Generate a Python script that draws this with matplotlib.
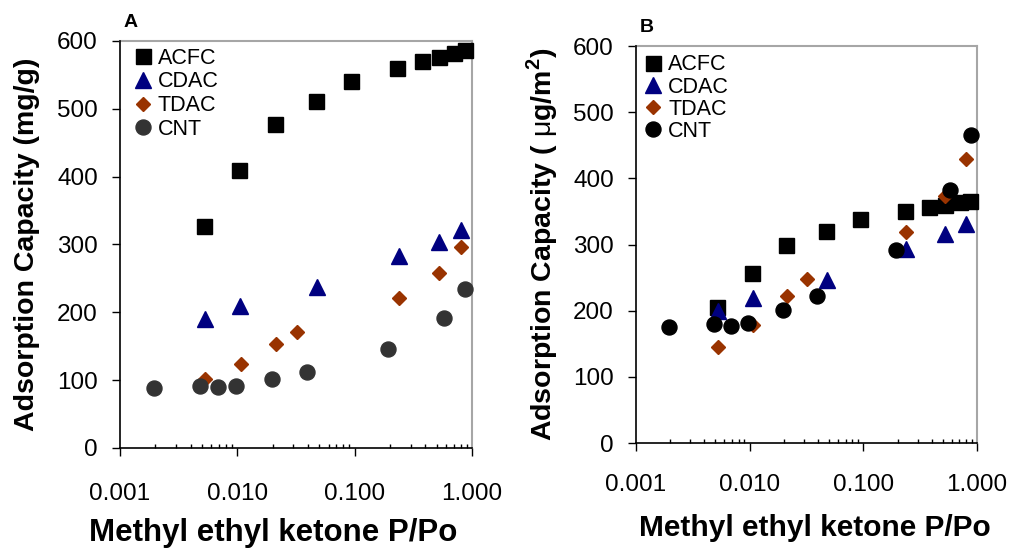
import numpy as np
import matplotlib
matplotlib.use('Agg')
import matplotlib.pyplot as plt
from matplotlib.ticker import FixedLocator, LogLocator, NullFormatter

plt.rcParams['font.family'] = ['Liberation Sans', 'DejaVu Sans']
plt.rcParams['mathtext.fontset'] = 'custom'
plt.rcParams['mathtext.rm'] = 'Liberation Sans'
plt.rcParams['mathtext.bf'] = 'Liberation Sans:bold'

# relative pressure of each series (same in both panels)
x_acfc = [0.0052, 0.0104, 0.0209, 0.0467, 0.094, 0.231, 0.375, 0.524, 0.703, 0.877]
x_cdac = [0.0053, 0.0106, 0.0479, 0.238, 0.524, 0.807]
x_tdac = [0.0053, 0.0107, 0.0213, 0.0322, 0.238, 0.52, 0.805]
x_cnt = [0.00195, 0.00484, 0.00685, 0.0097, 0.0196, 0.0389, 0.194, 0.582, 0.88]

# panel A, mg/g
a_acfc = [327, 410, 477, 512, 541, 560, 570, 576, 583, 586]
a_cdac = [190, 210, 237, 283, 304, 321]
a_tdac = [101, 124, 154, 171, 221, 258, 296]
a_cnt = [88, 91, 90, 91, 102, 112, 146, 192, 234]

# panel B, ug/m2
b_acfc = [205, 257, 299, 320, 338, 350, 357, 359, 364, 366]
b_cdac = [199, 219, 247, 293, 316, 331]
b_tdac = [145, 179, 222, 248, 319, 373, 430]
b_cnt = [175, 180, 177, 182, 201, 222, 292, 383, 465]

names = ['ACFC', 'CDAC', 'TDAC', 'CNT']
markers = ['s', '^', 'D', 'o']
sizes = [10.8, 12, 7.4, 10.8]
xticks = [0.001, 0.01, 0.1, 1.0]
xticklabels = ['0.001', '0.010', '0.100', '1.000']
yticks = [0, 100, 200, 300, 400, 500, 600]

fig = plt.figure(figsize=(10.1, 5.5), dpi=100)
axA = fig.add_axes([0.1188, 0.1855, 0.3485, 0.74])
axB = fig.add_axes([0.6297, 0.1945, 0.3376, 0.7218])


def panel(ax, ys, colors, ylabel, title, ylab_x, xlab_x, xlab_y, xlab_size, xpad):
    for i in range(4):
        xs = [x_acfc, x_cdac, x_tdac, x_cnt][i]
        ax.plot(xs, ys[i], linestyle='none', marker=markers[i], ms=sizes[i],
                color=colors[i], mec=colors[i], label=names[i], clip_on=False,
                zorder=3)
    ax.set_xscale('log')
    ax.set_xlim(0.001, 1.0)
    ax.set_ylim(0, 600)
    ax.xaxis.set_major_locator(FixedLocator(xticks))
    ax.set_xticklabels(xticklabels)
    ax.xaxis.set_minor_locator(LogLocator(base=10, subs=np.arange(2, 10)))
    ax.xaxis.set_minor_formatter(NullFormatter())
    ax.set_yticks(yticks)
    ax.tick_params(axis='x', which='major', direction='out', length=6,
                   width=1, labelsize=17.5, pad=xpad)
    ax.tick_params(axis='x', which='minor', direction='in', length=3, width=1)
    ax.tick_params(axis='y', direction='out', length=6, width=1,
                   labelsize=17.5, pad=10)
    for s in ['left', 'bottom']:
        ax.spines[s].set_linewidth(1.2)
        ax.spines[s].set_zorder(6)
    for s in ['top', 'right']:
        ax.spines[s].set_color('#a6a6a6')
        ax.spines[s].set_linewidth(1.5)
    ax.set_ylabel(ylabel, fontsize=20.5, fontweight='bold')
    ax.yaxis.set_label_coords(ylab_x, 0.5)
    ax.set_xlabel('Methyl ethyl ketone P/Po', fontsize=xlab_size, fontweight='bold')
    ax.xaxis.set_label_coords(xlab_x, xlab_y)
    ax.text(0.01, 1.025, title, transform=ax.transAxes, fontsize=14,
            fontweight='bold', va='bottom', ha='left')


panel(axA, [a_acfc, a_cdac, a_tdac, a_cnt],
      ['black', '#000080', '#993300', '#333333'],
      'Adsorption Capacity (mg/g)', 'A', -0.228, 0.435, -0.172, 22.5, 19)
axA.legend(loc='upper left', bbox_to_anchor=(0.034, 0.983), frameon=False,
           fontsize=15.5, handlelength=1.0, handletextpad=0.2,
           labelspacing=0.12, borderaxespad=0, borderpad=0, numpoints=1)

panel(axB, [b_acfc, b_cdac, b_tdac, b_cnt],
      ['black', '#000080', '#993300', 'black'],
      r'Adsorption Capacity ( $\mathrm{\mu}$g/m$^{\mathbf{2}}$)', 'B',
      -0.222, 0.525, -0.18, 21.5, 16)
legB = axB.legend(loc='upper left', bbox_to_anchor=(0.0, 0.995), frameon=True,
                  fontsize=15.5, handlelength=1.0, handletextpad=0.2,
                  labelspacing=0.05, borderaxespad=0, borderpad=0.3,
                  numpoints=1, fancybox=False)
legB.get_frame().set_edgecolor('none')
legB.get_frame().set_alpha(1)
legB.set_zorder(5)

plt.savefig('out.png', dpi=100)
